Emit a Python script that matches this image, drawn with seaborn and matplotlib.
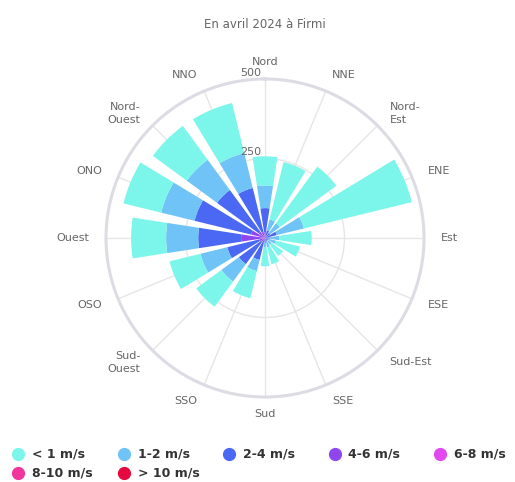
import numpy as np
import pandas as pd
import matplotlib
matplotlib.use("Agg")
import matplotlib.pyplot as plt
from matplotlib.lines import Line2D
import seaborn as sns

directions = ["Nord", "NNE", "Nord-\nEst", "ENE", "Est", "ESE", "Sud-Est", "SSE",
              "Sud", "SSO", "Sud-\nOuest", "OSO", "Ouest", "ONO", "Nord-\nOuest", "NNO"]
series_names = ["< 1 m/s", "1-2 m/s", "2-4 m/s", "4-6 m/s", "6-8 m/s", "8-10 m/s", "> 10 m/s"]

lt1 = [92, 186, 220, 349, 102, 78, 45, 55, 59, 88, 98, 100, 110, 122, 132, 162]
s1_2 = [71, 35, 38, 88, 30, 23, 15, 18, 15, 36, 68, 87, 101, 108, 118, 113]
s2_4 = [76, 17, 15, 30, 10, 9, 7, 9, 10, 56, 87, 104, 135, 183, 162, 142]
s4_6 = [18, 8, 5, 8, 5, 3, 3, 3, 5, 15, 15, 18, 67, 45, 25, 20]
s6_8 = [0, 0, 0, 0, 0, 0, 0, 0, 0, 0, 0, 0, 8, 0, 0, 0]
s8_10 = [0] * 16
gt10 = [0] * 16

radial_ticks = [250, 500]
title_text = "En avril 2024 à Firmi"

colors = ["#7cf6ea", "#70c3f7", "#4a68f3", "#8f46ef", "#e149ef", "#f2359b", "#e6083f"]

values = [lt1, s1_2, s2_4, s4_6, s6_8, s8_10, gt10]
df = pd.DataFrame({name: v for name, v in zip(series_names, values)})
df["direction"] = directions

sns.set_theme(style="white")
plt.rcParams["font.family"] = ["DejaVu Sans"]

W, H = 515, 482
fig = plt.figure(figsize=(W / 100, H / 100), dpi=100)
cx, cy, R = 265, 238, 159
ax = fig.add_axes([(cx - R) / W, 1 - (cy + R) / H, 2 * R / W, 2 * R / H], projection="polar")
ax.set_theta_zero_location("N")
ax.set_theta_direction(-1)
ax.set_ylim(0, 500)

n = len(directions)
theta = np.arange(n) * 2 * np.pi / n
width = 2 * np.pi / n * 0.78

# stack from inside: highest speed inside, "< 1 m/s" outermost
bottom = np.zeros(n)
for name, col in reversed(list(zip(series_names, colors))):
    vals = df[name].to_numpy(dtype=float)
    ax.bar(theta, vals, width=width, bottom=bottom, color=col, linewidth=0, zorder=3)
    bottom += vals

# grid
ax.set_xticks(theta)
ax.set_xticklabels([])
ax.set_yticks([250])
ax.set_yticklabels([])
ax.grid(True, color="#e6e6e6", linewidth=1, zorder=0)
ax.spines["polar"].set_color("#dcdce4")
ax.spines["polar"].set_linewidth(2.2)
ax.tick_params(pad=0)

# direction labels
r_lab = 500 * (R + 17) / R
for t, lab in zip(theta, directions):
    s = np.sin(t)
    ha = "left" if s > 0.1 else ("right" if s < -0.1 else "center")
    ax.text(t, r_lab, lab, ha=ha, va="center", fontsize=8, color="#666666",
            linespacing=1.3, clip_on=False)

# radial value labels
for rv in radial_ticks:
    ax.annotate(str(rv), xy=(0, rv), xytext=(-3, 1), textcoords="offset points",
                ha="right", va="bottom", fontsize=8, color="#666666", annotation_clip=False)

fig.text(cx / W, 1 - 25 / H, title_text, ha="center", va="center", fontsize=8.5, color="#666666")

# legend
for i, (name, col) in enumerate(zip(series_names, colors)):
    c, r = i % 5, i // 5
    x = 18 + c * 105.5
    y = 454 + r * 19
    fig.add_artist(Line2D([x / W], [1 - y / H], marker="o", markersize=8.5, color=col,
                          linestyle="none", transform=fig.transFigure))
    fig.text((x + 14) / W, 1 - y / H, name, ha="left", va="center", fontsize=9,
             fontweight="bold", color="#333333")

fig.savefig("out.png", dpi=100)
